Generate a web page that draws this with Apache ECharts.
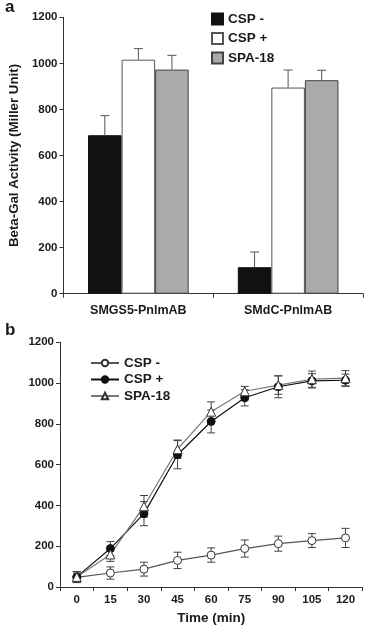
<!DOCTYPE html>
<html>
<head>
<meta charset="utf-8">
<script src="https://cdn.jsdelivr.net/npm/echarts@6/dist/echarts.min.js"></script>
<style>
  html, body { margin: 0; padding: 0; background: #fff; }
  #top { position: absolute; left: 0; top: 0; width: 367px; height: 318px; }
  #bottom { position: absolute; left: 0; top: 318px; width: 367px; height: 312px; }
</style>
</head>
<body>
<div id="top"></div>
<div id="bottom"></div>
<script>
'use strict';

// panel a
var groups = ['SMGS5-PnlmAB', 'SMdC-PnlmAB'];
var seriesNames = ['CSP -', 'CSP +', 'SPA-18'];
var cspMinusBar = [688, 115];
var cspPlusBar = [1016, 895];
var spaBar = [973, 927];
var cspMinusBarErr = [85, 66];
var cspPlusBarErr = [48, 76];
var spaBarErr = [62, 43];
var yTicks = [0, 200, 400, 600, 800, 1000, 1200];

// panel b
var times = ['0', '15', '30', '45', '60', '75', '90', '105', '120'];
var cspMinus = [48, 69, 88, 131, 157, 189, 213, 228, 241];
var cspMinusErr = [26, 30, 34, 40, 35, 42, 37, 34, 47];
var cspPlus = [50, 189, 360, 649, 812, 928, 982, 1011, 1014];
var cspPlusErr = [26, 34, 59, 69, 56, 40, 54, 35, 30];
var spa = [50, 160, 396, 676, 860, 960, 990, 1019, 1024];
var spaErr = [26, 34, 53, 45, 48, 24, 45, 40, 37];

var FONT = 'Liberation Sans';
var TXT = '#1a1a1a';
var AXIS = '#333';

function textStyle(size) {
  return { fontFamily: FONT, fontWeight: 'bold', fontSize: size, color: TXT };
}

var yAxisCommon = {
  type: 'value',
  min: yTicks[0],
  max: yTicks[yTicks.length - 1],
  interval: 200,
  axisLine: { show: true, lineStyle: { color: AXIS, width: 1 } },
  axisTick: { show: true, length: 4, lineStyle: { color: AXIS } },
  axisLabel: Object.assign({ margin: 6, formatter: function(v) { return String(v); } }, textStyle(11.5)),
  splitLine: { show: false }
};

// ---------- panel a ----------
var BAR_FRAC = 0.224;

function barErr(idx) {
  return function(params, api) {
    var v = api.value(1), e = api.value(2);
    var base = api.coord([api.value(0), v]);
    var top = api.coord([api.value(0), v + e]);
    var band = api.size([1, 0])[0];
    var x = base[0] + (idx - 1) * band * BAR_FRAC;
    var st = { stroke: '#555', lineWidth: 1 };
    return {
      type: 'group',
      children: [
        { type: 'line', shape: { x1: x, y1: base[1], x2: x, y2: top[1] }, style: st },
        { type: 'line', shape: { x1: x - 4.5, y1: top[1], x2: x + 4.5, y2: top[1] }, style: st }
      ]
    };
  };
}

function errData(vals, errs) {
  return vals.map(function(v, i) { return [i, v, errs[i]]; });
}

var barStyles = [
  { color: '#111', borderColor: '#111', borderWidth: 1 },
  { color: '#fff', borderColor: '#555', borderWidth: 1 },
  { color: '#aaa', borderColor: '#444', borderWidth: 1 }
];
var barValues = [cspMinusBar, cspPlusBar, spaBar];
var barErrs = [cspMinusBarErr, cspPlusBarErr, spaBarErr];

var topSeries = [];
seriesNames.forEach(function(name, i) {
  topSeries.push({
    name: name,
    type: 'bar',
    data: barValues[i],
    barWidth: (BAR_FRAC * 100) + '%',
    barGap: '0%',
    itemStyle: barStyles[i],
    emphasis: { disabled: true },
    z: 2
  });
});
seriesNames.forEach(function(name, i) {
  topSeries.push({
    type: 'custom',
    renderItem: barErr(i),
    data: errData(barValues[i], barErrs[i]),
    silent: true,
    z: 3
  });
});

var chartA = echarts.init(document.getElementById('top'));
chartA.setOption({
  animation: false,
  title: { text: 'a', left: 5, top: -1, padding: 0, textStyle: textStyle(17) },
  legend: {
    data: seriesNames,
    orient: 'vertical',
    left: 206,
    top: 7,
    icon: 'rect',
    itemWidth: 11,
    itemHeight: 11,
    itemGap: 5.5,
    textStyle: textStyle(13.5),
    selectedMode: false
  },
  grid: { left: 60, right: 4, top: 17.3, bottom: 24.3 },
  xAxis: {
    type: 'category',
    data: groups,
    axisLine: { lineStyle: { color: AXIS } },
    axisTick: { show: true, length: 4, lineStyle: { color: AXIS } },
    axisLabel: Object.assign({ margin: 10 }, textStyle(12.5))
  },
  yAxis: Object.assign({}, yAxisCommon, {
    name: 'Beta-Gal Activity (Miller Unit)',
    nameLocation: 'middle',
    nameRotate: 90,
    nameGap: 39,
    nameTextStyle: textStyle(13.3)
  }),
  series: topSeries
});

// ---------- panel b ----------
function lineErr(params, api) {
  var c = api.coord([api.value(0), api.value(1)]);
  var hi = api.coord([api.value(0), api.value(1) + api.value(2)]);
  var lo = api.coord([api.value(0), api.value(1) - api.value(2)]);
  var st = { stroke: '#444', lineWidth: 1 };
  return {
    type: 'group',
    children: [
      { type: 'line', shape: { x1: c[0], y1: hi[1], x2: c[0], y2: lo[1] }, style: st },
      { type: 'line', shape: { x1: c[0] - 4, y1: hi[1], x2: c[0] + 4, y2: hi[1] }, style: st },
      { type: 'line', shape: { x1: c[0] - 4, y1: lo[1], x2: c[0] + 4, y2: lo[1] }, style: st }
    ]
  };
}

var lineVals = [cspMinus, cspPlus, spa];
var lineErrs = [cspMinusErr, cspPlusErr, spaErr];
var lineDefs = [
  { symbol: 'circle', size: 8, line: '#555', item: { color: '#fff', borderColor: '#333', borderWidth: 1 } },
  { symbol: 'circle', size: 8, line: '#111', item: { color: '#111', borderColor: '#111', borderWidth: 1 } },
  { symbol: 'triangle', size: 9, line: '#777', item: { color: '#fff', borderColor: '#333', borderWidth: 1 } }
];

var bottomSeries = [];
seriesNames.forEach(function(name, i) {
  bottomSeries.push({
    type: 'custom',
    renderItem: lineErr,
    data: errData(lineVals[i], lineErrs[i]),
    silent: true,
    z: 1
  });
});
seriesNames.forEach(function(name, i) {
  var d = lineDefs[i];
  bottomSeries.push({
    name: name,
    type: 'line',
    data: lineVals[i],
    symbol: d.symbol,
    symbolSize: d.size,
    showAllSymbol: true,
    lineStyle: { color: d.line, width: 1.2 },
    itemStyle: d.item,
    emphasis: { disabled: true },
    z: 3
  });
});

var chartB = echarts.init(document.getElementById('bottom'));
chartB.setOption({
  animation: false,
  title: { text: 'b', left: 5, top: 4, padding: 0, textStyle: textStyle(17) },
  legend: {
    data: seriesNames,
    orient: 'vertical',
    left: 85,
    top: 33,
    itemWidth: 28,
    itemHeight: 8,
    itemGap: 2.5,
    textStyle: textStyle(13.5),
    selectedMode: false
  },
  grid: { left: 60, right: 4.7, top: 24.3, bottom: 37.3 },
  xAxis: {
    type: 'category',
    data: times,
    boundaryGap: true,
    name: 'Time (min)',
    nameLocation: 'middle',
    nameGap: 23,
    nameTextStyle: textStyle(13.5),
    axisLine: { lineStyle: { color: AXIS } },
    axisTick: { show: true, length: 4, lineStyle: { color: AXIS } },
    axisLabel: Object.assign({ margin: 7 }, textStyle(11.5))
  },
  yAxis: yAxisCommon,
  series: bottomSeries
});
</script>
</body>
</html>
